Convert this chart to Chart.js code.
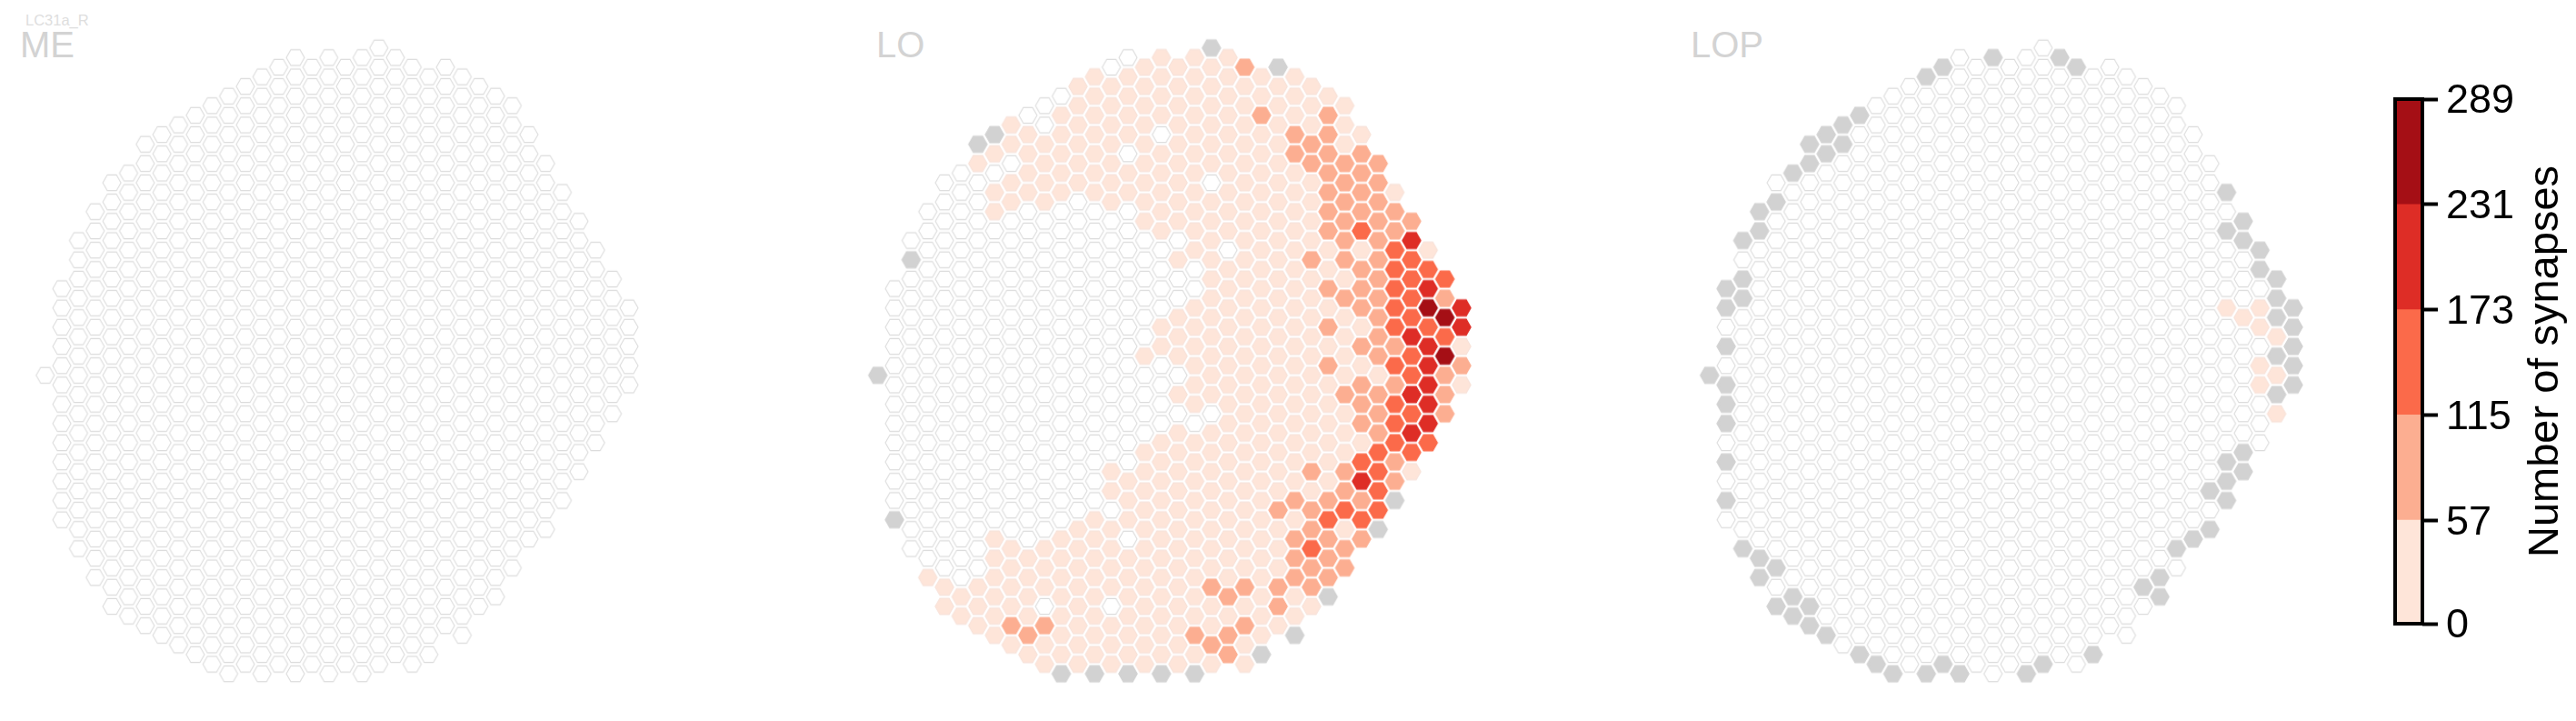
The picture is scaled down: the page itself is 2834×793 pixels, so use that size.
<!DOCTYPE html>
<html>
<head>
<meta charset="utf-8">
<title>LC31a_R</title>
<script src="https://cdn.jsdelivr.net/npm/chart.js@4/dist/chart.umd.min.js"></script>
<style>
    html, body { margin: 0; background: #fff; }
    body { position: relative; width: 2834px; height: 793px; overflow: hidden; font-family: "Liberation Sans", sans-serif; }
    canvas { position: absolute; top: 0; }
    .label { position: absolute; color: #d3d3d3; white-space: nowrap; line-height: 1; }
</style>
</head>
<body>
<div class="label" style="left:28px;top:14px;font-size:16.5px;color:#dedede">LC31a_R</div>
<div class="label" style="left:22px;top:29px;font-size:40px">ME</div>
<div class="label" style="left:964px;top:29px;font-size:40px">LO</div>
<div class="label" style="left:1860px;top:29px;font-size:40px">LOP</div>
<canvas id="me" width="734" height="793" style="left:13px"></canvas>
<canvas id="lo" width="734" height="793" style="left:929px"></canvas>
<canvas id="lop" width="734" height="793" style="left:1844px"></canvas>
<canvas id="bar" width="234" height="793" style="left:2600px"></canvas>
<script>
// First half-row of every hex column (columns are staggered, so rows go up by 2)
const colTop = [34, 25, 20, 17, 14, 13, 10, 9, 8, 7, 6, 5, 4, 3, 2, 1, 2, 1, 2, 1, 0, 1, 2, 3, 2, 3, 4, 5, 6, 9, 12, 15, 18, 21, 24, 27];

// Cell bins, one string per column, top to bottom.
// 0 = no synapses, 1-5 = colour bins of the colorbar, x = no data (grey)
const meColumns = [
    '0',
    '00000 00000 000',
    '00000 00000 00000 00',
    '00000 00000 00000 00000',
    '00000 00000 00000 00000 000',
    '00000 00000 00000 00000 0000',
    '00000 00000 00000 00000 00000 0',
    '00000 00000 00000 00000 00000 00',
    '00000 00000 00000 00000 00000 000',
    '00000 00000 00000 00000 00000 0000',
    '00000 00000 00000 00000 00000 00000',
    '00000 00000 00000 00000 00000 00000 0',
    '00000 00000 00000 00000 00000 00000 0',
    '00000 00000 00000 00000 00000 00000 00',
    '00000 00000 00000 00000 00000 00000 00',
    '00000 00000 00000 00000 00000 00000 000',
    '00000 00000 00000 00000 00000 00000 00',
    '00000 00000 00000 00000 00000 00000 000',
    '00000 00000 00000 00000 00000 00000 00',
    '00000 00000 00000 00000 00000 00000 000',
    '00000 00000 00000 00000 00000 00000 000',
    '00000 00000 00000 00000 00000 00000 00',
    '00000 00000 00000 00000 00000 00000 00',
    '00000 00000 00000 00000 00000 00000 0',
    '00000 00000 00000 00000 00000 00000',
    '00000 00000 00000 00000 00000 00000',
    '00000 00000 00000 00000 00000 000',
    '00000 00000 00000 00000 00000 00',
    '00000 00000 00000 00000 00000',
    '00000 00000 00000 00000 00',
    '00000 00000 00000 00000',
    '00000 00000 00000 00',
    '00000 00000 0000',
    '00000 00000 0',
    '00000 000',
    '00000'
];

const loColumns = [
    'x',
    '00000 00000 00 x',
    '0 x 00000 00000 00000',
    '00000 00000 00000 0000 1',
    '00000 00000 00000 00000 0 11',
    '00000 00000 00000 00000 00 11',
    'x 1 00000 00000 00000 00000 0 111',
    'x 1 0 11 00000 00000 00000 0 11111 1',
    '11 0 11 00000 00000 00000 00 1111 2 1',
    '0 1111 00000 00000 00000 000 1111 2 1',
    '00 1111 00000 00000 00000 00 111 0 2 11',
    '0 11111 00000 00000 00000 00 11111 11 x',
    '11111 1 00000 00000 00000 00 11111 111',
    '11111 11 00000 00000 00000 0 11111 111 x',
    '0 11111 11 00000 00000 000 11 0 1111 0 111',
    '0 1111 0 11 00000 00000 0000 111 0 11111 1 x',
    '11111 1111 00000 0 1 0000 11111 11111 11',
    '1111 0 11111 0000 11 0000 11111 11111 11 x',
    '11111 1111 0 1 00 111 0 1 0 11111 11111 111',
    '11111 11111 1 00 11111 1 0 11111 11111 2 1 x',
    'x 11111 1 0 11111 11111 1 0 11111 111 2 11 2 1',
    '11111 11111 0 11111 11111 11111 11 2 1 2 2',
    '2 11111 11111 11111 11111 11111 1 2 1 2 11',
    '11 2 11111 11111 11111 11111 11111 11 x',
    'x 11111 11111 11111 11111 11 2 111 22 1',
    '111 22 11111 11111 11111 11 2 1 222 11 x',
    '111 22 1111 2 11111 11111 2 1 22 3 22 1',
    '1 22222 22 11 2 1 2 1 2 11111 1 2 3 222 x',
    '111 22222 2 1 2 1111 2 111 22 3 1 22',
    '1 2222 3 1 222 1 2 1 222 1 3 4 2 3 2',
    '22222 22222 2 1 222 3333 x',
    '1 22 33333 2 3 2 333 22 x',
    '2 4 3333 4 33 4 3 4 3 1',
    '1 3 4 5 3 44444 3',
    '3 2 5 3 5 222',
    '4 4 1 2 1'
];

const lopColumns = [
    'x',
    'xx0x0xxx0x0x0',
    'x0xx 00000 00000 00 x',
    'xx 00000 00000 00000 0 xx',
    '0x 00000 00000 00000 000 x0x',
    'x 00000 00000 00000 00000 0 xx',
    'xx 00000 00000 00000 00000 00 xx',
    'xx 00000 00000 00000 00000 0000 x',
    'xx 00000 00000 00000 00000 00000 0',
    'x 00000 00000 00000 00000 00000 00 x',
    '00000 00000 00000 00000 00000 0000 x',
    '00000 00000 00000 00000 00000 00000 x',
    '00000 00000 00000 00000 00000 00000 0',
    'x 00000 00000 00000 00000 00000 00000 x',
    'x 00000 00000 00000 00000 00000 00000 x',
    '00000 00000 00000 00000 00000 00000 00 x',
    '00000 00000 00000 00000 00000 00000 00',
    'x 00000 00000 00000 00000 00000 00000 00',
    '00000 00000 00000 00000 00000 00000 00',
    '00000 00000 00000 00000 00000 00000 00 x',
    '00000 00000 00000 00000 00000 00000 00 x',
    'x 00000 00000 00000 00000 00000 00000 0',
    'x 00000 00000 00000 00000 00000 00000 0',
    '00000 00000 00000 00000 00000 00000 x',
    '00000 00000 00000 00000 00000 00000',
    '00000 00000 00000 00000 00000 00000',
    '00000 00000 00000 00000 00000 0 x 0',
    '00000 00000 00000 00000 00000 xx',
    '00000 00000 00000 00000 000 x 0',
    '00000 00000 00000 00000 0 x',
    '00000 00000 00000 00 x 0 x',
    'x0x 000 1 00000 00 xxx',
    'xx 000 1 00000 0 xx',
    'xx 0 11 0 11 000',
    'xxx1x1x1',
    'xxxxx'
];

// Typical synapse count for a cell of each bin
const binValues = [0, 28, 86, 144, 202, 260];

const colorbarTicks = [0, 57, 115, 173, 231, 289];
const colorbarBins = [57, 58, 58, 58, 58];
const binColors = ['#fee5d9', '#fcae91', '#fb6a4a', '#de2d26', '#a50f15'];

const noDataColor = '#d2d2d2';
const sprites = {};

function toPoints(columns) {
    const points = [];
    columns.forEach((col, c) => {
        col.replace(/\s/g, '').split('').forEach((bin, i) => {
            points.push({ x: c, y: colTop[c] + i * 2, v: bin === 'x' ? null : binValues[+bin] });
        });
    });
    return points;
}

function cellColor(v) {
    if (v === null) return noDataColor;
    if (v === 0) return '#ffffff';
    const i = colorbarTicks.findIndex((t) => v <= t);
    return binColors[i - 1];
}

// Flat-topped hexagon, kept as a small canvas so Chart.js can use it as a pointStyle
function hexSprite(v) {
    const color = cellColor(v);
    if (sprites[color]) return sprites[color];
    const c = document.createElement('canvas');
    c.width = 28;
    c.height = 28;
    const ctx = c.getContext('2d');
    const radius = v === 0 ? 10 : 10.2;
    ctx.beginPath();
    for (let k = 0; k < 6; k++) {
        const a = k * Math.PI / 3;
        ctx.lineTo(14 + radius * Math.cos(a), 14 + radius * Math.sin(a));
    }
    ctx.closePath();
    ctx.fillStyle = color;
    ctx.fill();
    ctx.lineWidth = 1.1;
    ctx.strokeStyle = v === 0 ? '#dcdcdc' : (v === 28 ? '#f8e2d9' : color);
    ctx.stroke();
    sprites[color] = c;
    return c;
}

function drawPanel(id, columns) {
    new Chart(document.getElementById(id), {
        type: 'scatter',
        data: {
            datasets: [{
                data: toPoints(columns),
                pointRadius: 10,
                pointStyle: (ctx) => ctx.raw ? hexSprite(ctx.raw.v) : 'circle'
            }]
        },
        options: {
            responsive: false,
            animation: false,
            layout: { padding: 0, autoPadding: false },
            plugins: { legend: { display: false }, tooltip: { enabled: false } },
            scales: {
                x: { type: 'linear', display: false, min: -2, max: 38 },
                y: { type: 'linear', display: false, min: -4.98, max: 69.9, reverse: true }
            }
        }
    });
}

drawPanel('me', meColumns);
drawPanel('lo', loColumns);
drawPanel('lop', lopColumns);

// Black frame and rotated title of the colorbar
const colorbarExtras = {
    id: 'colorbarExtras',
    afterDraw(chart) {
        const { ctx, chartArea, scales } = chart;
        ctx.save();
        ctx.strokeStyle = '#000';
        ctx.lineWidth = 4;
        ctx.strokeRect(chartArea.left, chartArea.top, chartArea.right - chartArea.left, chartArea.bottom - chartArea.top);
        ctx.translate(201, (scales.y.top + scales.y.bottom) / 2);
        ctx.rotate(-Math.PI / 2);
        ctx.fillStyle = '#000';
        ctx.font = '47px "Liberation Sans"';
        ctx.textAlign = 'center';
        ctx.textBaseline = 'middle';
        ctx.fillText('Number of synapses', 0, 0);
        ctx.restore();
    }
};

new Chart(document.getElementById('bar'), {
    type: 'bar',
    data: {
        labels: ['synapses'],
        datasets: colorbarBins.map((n, i) => ({
            data: [n],
            backgroundColor: binColors[i],
            barPercentage: 1,
            categoryPercentage: 1
        }))
    },
    options: {
        responsive: false,
        animation: false,
        layout: { padding: { left: 35, top: 109, bottom: 107, right: 0 } },
        plugins: { legend: { display: false }, tooltip: { enabled: false } },
        scales: {
            x: { stacked: true, display: false },
            y: {
                stacked: true,
                position: 'right',
                min: 0,
                max: 289,
                afterFit: (scale) => { scale.width = 169; },
                afterBuildTicks: (scale) => { scale.ticks = colorbarTicks.map((value) => ({ value })); },
                border: { display: false },
                grid: { drawOnChartArea: false, tickLength: 17, tickWidth: 4, tickColor: '#000' },
                ticks: {
                    autoSkip: false,
                    maxRotation: 0,
                    padding: 9,
                    color: '#000',
                    // empty first line + tight line height pushes the digits ~3px down onto the tick
                    font: { family: '"Liberation Sans"', size: 45, lineHeight: '6px' },
                    callback: (value) => ['', String(value)]
                }
            }
        }
    },
    plugins: [colorbarExtras]
});
</script>
</body>
</html>
